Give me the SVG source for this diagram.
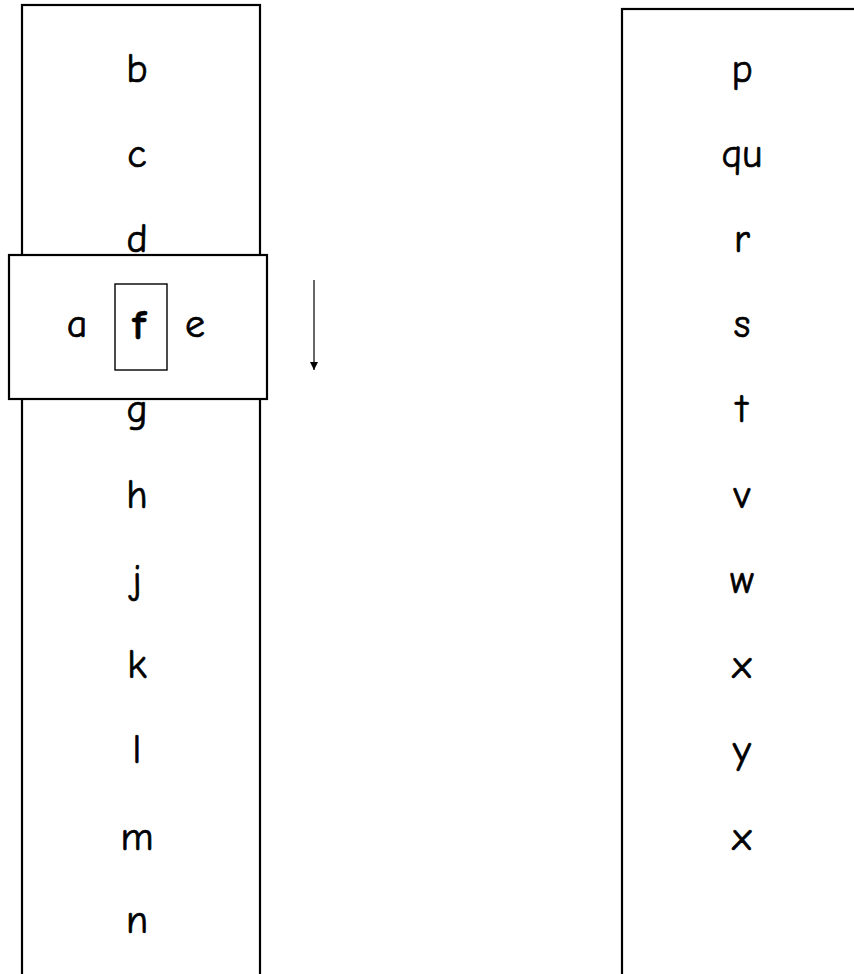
<svg xmlns="http://www.w3.org/2000/svg" width="854" height="974" viewBox="0 0 854 974">
<defs>
<style>
.strip{fill:#fff;stroke:#000;stroke-width:2.2}
.box{fill:#fff;stroke:#000;stroke-width:2.2}
.inner{fill:#fff;stroke:#000;stroke-width:1.4}
text{font-family:"Comic Sans MS","Comic Neue","Open Sans","Noto Sans",sans-serif;font-size:40px;fill:#000;stroke:#000;stroke-width:0.7;text-anchor:middle}
.bold{font-weight:bold;font-size:42px}
</style>
<marker id="ah" viewBox="0 0 10 10" refX="10" refY="5" markerWidth="8" markerHeight="8" markerUnits="userSpaceOnUse" orient="auto">
<path d="M0,0 L10,5 L0,10 Z" fill="#000"/>
</marker>
</defs>
<rect width="854" height="974" fill="#fff"/>
<g id="left-strip">
<rect class="strip" x="22" y="5" width="238" height="1000"/>
<text x="137" y="82">b</text>
<text x="137" y="167">c</text>
<text x="137" y="252">d</text>
<text x="137" y="422">g</text>
<text x="137" y="508">h</text>
<text x="137" y="593">j</text>
<text x="137" y="678">k</text>
<text x="137" y="763">l</text>
<text x="137" y="850">m</text>
<text x="137" y="933">n</text>
</g>
<g id="right-strip">
<rect class="strip" x="622" y="9" width="300" height="1000"/>
<text x="742" y="82">p</text>
<text x="742" y="167">qu</text>
<text x="742" y="252">r</text>
<text x="742" y="337">s</text>
<text x="742" y="422">t</text>
<text x="742" y="508">v</text>
<text x="742" y="593">w</text>
<text x="742" y="678">x</text>
<text x="742" y="763">y</text>
<text x="742" y="850">x</text>
</g>
<g id="slider">
<rect class="box" x="9" y="255" width="258" height="144"/>
<rect class="inner" x="115" y="284" width="52" height="86"/>
<text x="77" y="337">a</text>
<text class="bold" x="139" y="339">f</text>
<text x="195" y="337">e</text>
</g>
<g id="connectors">
<line x1="314" y1="280" x2="314" y2="370" stroke="#000" stroke-width="1.2" marker-end="url(#ah)"/>
</g>
</svg>
